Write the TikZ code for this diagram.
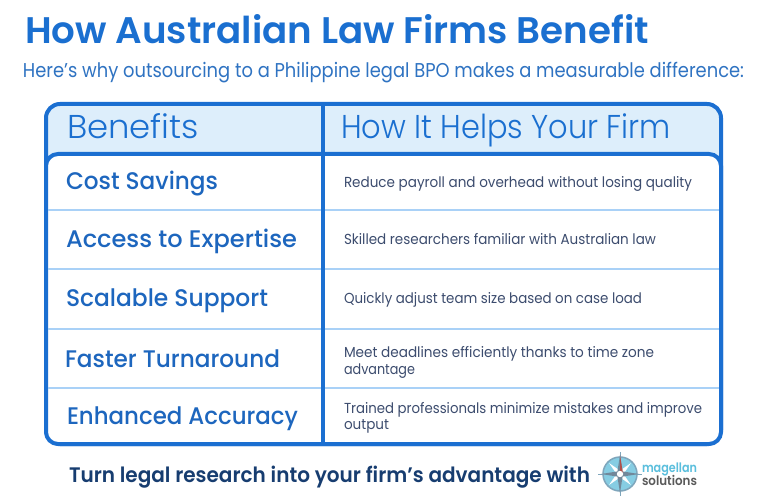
\documentclass[tikz,border=0pt]{standalone}
\usepackage{fontspec}
\usepackage{graphicx}
\usetikzlibrary{calc}
\setmainfont{Poppins}
\newfontfamily\plight{Poppins Light}
\newfontfamily\preg{Poppins}
\newfontfamily\pmed{Poppins Medium}
\newfontfamily\psemi{Poppins SemiBold}
\newfontfamily\pbold{Poppins Bold}
\definecolor{titleblue}{HTML}{1A6FD0}
\definecolor{subblue}{HTML}{2F73C2}
\definecolor{frameblue}{HTML}{1B6FD1}
\definecolor{headfill}{HTML}{DDEEFB}
\definecolor{rowline}{HTML}{A9D1F7}
\definecolor{labelblue}{HTML}{1D66BE}
\definecolor{bodytext}{HTML}{3C4C6E}
\definecolor{navy}{HTML}{173D70}
\definecolor{logoblue}{HTML}{86CDE3}
\definecolor{logoring}{HTML}{7FA6BC}
\definecolor{logostar}{HTML}{71889A}
\definecolor{logotext}{HTML}{5BBFDD}
\definecolor{logogray}{HTML}{5A5A5A}
\definecolor{logored}{HTML}{B0504A}
\newcommand\mfitw[2]{\sbox0{#2}\pgfmathsetmacro\myfitr{#1/\the\wd0}\scalebox{\myfitr}[1]{\usebox0}}
\begin{document}
\begin{tikzpicture}[x=1pt,y=-1pt,
  txt/.style={anchor=base west, inner sep=0pt, outer sep=0pt},
  frame/.style={draw=frameblue, line width=4pt},
  rowsep/.style={draw=rowline, line width=1.8pt},
  label/.style={txt, text=labelblue, font=\pmed\fontsize{24}{28}\selectfont},
  desc/.style={txt, text=bodytext, font=\preg\fontsize{14.5}{17}\selectfont},
  head/.style={txt, text=titleblue, font=\plight\fontsize{33}{38}\selectfont}]
\useasboundingbox (0,0) rectangle (768,502);
\fill[white] (0,0) rectangle (768,502);
% title
\node[txt, text=titleblue, font=\psemi\fontsize{37}{42}\selectfont] (title) at (25,44) {\mfitw{624}{How Australian Law Firms Benefit}};
\node[txt, text=subblue, font=\preg\fontsize{20}{24}\selectfont] (subtitle) at (23,78) {\mfitw{721}{Here’s why outsourcing to a Philippine legal BPO makes a measurable difference:}};
% table frame
\path[frame, fill=headfill, rounded corners=14pt] (46,104) rectangle (721,444);
\path[frame, fill=white, rounded corners=12pt] (46,154) rectangle (721,444);
\foreach \yy in {210,269,329,388} \draw[rowsep] (48,\yy) -- (719,\yy);
\draw[frame] (323,104) -- (323,444);
% header
\node[head] (hb) at (67,139) {\mfitw{132}{Benefits}};
\node[head] (hh) at (341,139) {\mfitw{330}{How It Helps Your Firm}};
% left labels
\node[label] (l1) at (66,190) {\mfitw{152}{Cost Savings}};
\node[label] (l2) at (66,248) {\mfitw{231}{Access to Expertise}};
\node[label] (l3) at (66,307) {\mfitw{202}{Scalable Support}};
\node[label] (l4) at (65,367) {\mfitw{215}{Faster Turnaround}};
\node[label] (l5) at (67,424) {\mfitw{231}{Enhanced Accuracy}};
% descriptions
\node[desc] (d1) at (344,188) {\mfitw{348}{Reduce payroll and overhead without losing quality}};
\node[desc] (d2) at (344,245) {\mfitw{312}{Skilled researchers familiar with Australian law}};
\node[desc] (d3) at (344,304) {\mfitw{298}{Quickly adjust team size based on case load}};
\node[desc] (d4a) at (344,358) {\mfitw{310}{Meet deadlines efficiently thanks to time zone}};
\node[desc] (d4b) at (344,374) {\mfitw{71}{advantage}};
\node[desc] (d5a) at (344,413) {\mfitw{358}{Trained professionals minimize mistakes and improve}};
\node[desc] (d5b) at (344,429) {\mfitw{45}{output}};
% footer
\node[txt, text=navy, font=\psemi\fontsize{21}{25}\selectfont] (footer) at (69,482) {\mfitw{521}{Turn legal research into your firm’s advantage with}};
% logo
\coordinate (lc) at (620,474);
\fill[logoblue] (lc) circle (17);
\draw[logoring, line width=1.5pt] (lc) circle (17);
\foreach \a in {0,90,180,270} \draw[logoring, line width=1pt] ($(lc)+(\a:16)$) -- ($(lc)+(\a:22)$);
\fill[white] ($(lc)+(-11,-11)$) -- ($(lc)+(2,-2)$) -- ($(lc)+(11,11)$) -- ($(lc)+(-2,2)$) -- cycle;
\fill[white] ($(lc)+(11,-11)$) -- ($(lc)+(2,2)$) -- ($(lc)+(-11,11)$) -- ($(lc)+(-2,-2)$) -- cycle;
\fill[logostar] ($(lc)+(0,-19)$) -- ($(lc)+(3,0)$) -- ($(lc)+(0,19)$) -- ($(lc)+(-3,0)$) -- cycle;
\fill[logostar] ($(lc)+(-19,0)$) -- ($(lc)+(0,3)$) -- ($(lc)+(19,0)$) -- ($(lc)+(0,-3)$) -- cycle;
\fill[logored] ($(lc)+(0,-19)$) -- ($(lc)+(3,0)$) -- ($(lc)+(0,0)$) -- cycle;
\fill[white] (lc) circle (3.2);
\node[txt, text=logotext, font=\psemi\fontsize{13}{15}\selectfont] (mag) at (642,472) {\mfitw{55}{magellan}};
\node[txt, text=logogray, font=\psemi\fontsize{13}{15}\selectfont] (sol) at (642,485) {\mfitw{55}{solutions}};
\end{tikzpicture}
\end{document}
